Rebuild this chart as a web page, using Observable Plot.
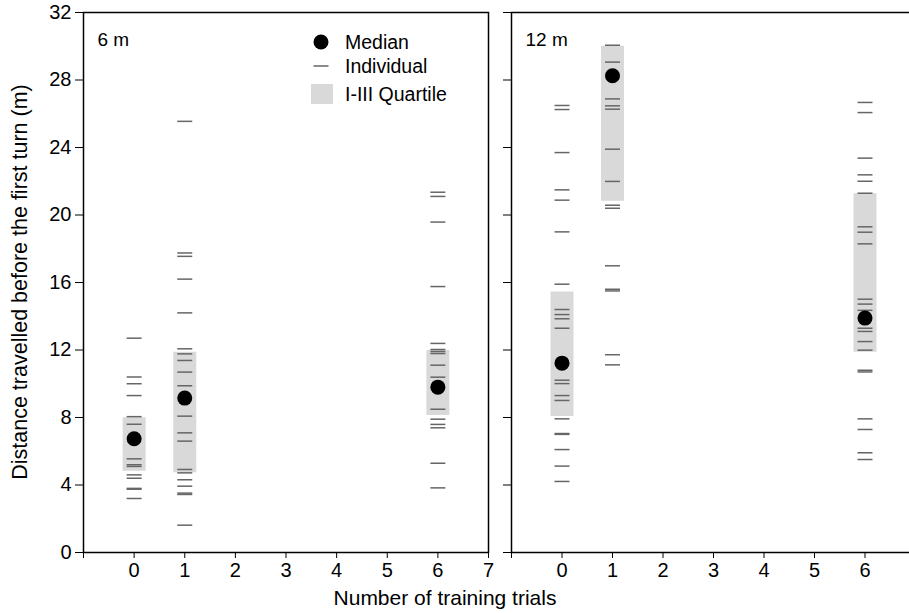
<!DOCTYPE html>
<html><head><meta charset="utf-8">
<script src="https://cdn.jsdelivr.net/npm/d3@7"></script>
<script src="https://cdn.jsdelivr.net/npm/@observablehq/plot@0.6"></script>
<style>
body{margin:0;background:#fff;}
#wrap{position:relative;width:909px;height:613px;overflow:hidden;font-family:"Liberation Sans",Arial,sans-serif;color:#000;}
.abs{position:absolute;}
</style></head><body><div id="wrap"></div>
<script>
// ---- data ----
const trials = [0, 1, 6];
const panels = ["6 m", "12 m"];
const yTicks = [0, 4, 8, 12, 16, 20, 24, 28, 32];
const xTicksLeft = [-1, 0, 1, 2, 3, 4, 5, 6, 7];
const xTicksRight = [-1, 0, 1, 2, 3, 4, 5, 6];

// 6 m individuals
const ind6_t0 = [12.7, 10.4, 10.0, 9.3, 8.05, 7.6, 5.55, 5.2, 5.1, 4.6, 4.4, 3.8, 3.75, 3.2];
const ind6_t1 = [25.55, 17.75, 17.55, 16.2, 14.2, 12.07, 11.77, 11.38, 10.69, 9.88, 8.08, 7.09, 6.6, 4.92, 4.72, 4.31, 3.93, 3.52, 3.44, 1.62];
const ind6_t6 = [21.35, 21.1, 19.58, 15.76, 12.39, 12.03, 11.91, 11.79, 11.1, 10.39, 8.49, 7.9, 7.59, 7.39, 5.29, 3.83];
const median6 = [6.74, 9.15, 9.8];
const q1_6 = [4.82, 4.72, 8.12];
const q3_6 = [7.98, 11.87, 11.97];

// 12 m individuals
const ind12_t0 = [26.49, 26.25, 23.7, 21.49, 20.88, 19.0, 15.9, 14.4, 14.1, 13.85, 13.29, 10.21, 10.01, 9.3, 9.01, 7.92, 7.05, 7.0, 6.1, 5.12, 4.21];
const ind12_t1 = [30.06, 29.06, 26.88, 26.47, 26.27, 23.9, 21.99, 20.58, 20.4, 16.99, 15.6, 15.5, 11.72, 11.12];
const ind12_t6 = [26.67, 26.07, 23.37, 22.38, 22.0, 21.29, 19.3, 18.98, 18.29, 15.01, 14.72, 14.35, 13.29, 13.1, 12.5, 11.99, 10.8, 10.7, 7.92, 7.29, 5.91, 5.51];
const median12 = [11.22, 28.25, 13.89];
const q1_12 = [8.06, 20.82, 11.87];
const q3_12 = [15.43, 30.0, 21.26];

// ---- tables ----
const indByPanel = {"6 m": [ind6_t0, ind6_t1, ind6_t6], "12 m": [ind12_t0, ind12_t1, ind12_t6]};
const sumByPanel = {"6 m": [median6, q1_6, q3_6], "12 m": [median12, q1_12, q3_12]};
function individuals(panel) {
  return indByPanel[panel].flatMap((arr, i) => arr.map(v => ({trial: trials[i], value: v})));
}
function summary(panel) {
  const [m, a, b] = sumByPanel[panel];
  return trials.map((t, i) => ({trial: t, median: m[i], q1: a[i], q3: b[i]}));
}

const dash = {draw(ctx, size) { const r = Math.sqrt(size / Math.PI); ctx.moveTo(-r, 0); ctx.lineTo(r, 0); }};
const FONT = "Liberation Sans, Arial, sans-serif";

function panelPlot(panel, {width, marginLeft, marginRight, showYLabels, xTicks}) {
  return Plot.plot({
    width, height: 590,
    marginLeft, marginRight, marginTop: 12, marginBottom: 38,
    style: {fontSize: "20px", fontFamily: FONT, background: "transparent", overflow: "visible"},
    x: {domain: [-1, 7]},
    y: {domain: [0, 32]},
    marks: [
      Plot.ruleX(summary(panel), {x: "trial", y1: "q1", y2: "q3", stroke: "#d9d9d9", strokeWidth: 23}),
      Plot.dot(individuals(panel), {x: "trial", y: "value", symbol: dash, r: 7.5, fill: "none", stroke: "#666", strokeWidth: 1.5}),
      Plot.dot(summary(panel), {x: "trial", y: "median", r: 7.5, fill: "black", stroke: "none"}),
      Plot.axisY({ticks: yTicks, tickSize: 8, tickPadding: 4, label: null, tickFormat: showYLabels ? (d => d) : (() => "")}),
      Plot.axisX({ticks: xTicks, tickSize: 6, tickPadding: 4, label: null, tickFormat: d => (d < 0 ? "" : d)}),
      Plot.frame({stroke: "black", strokeWidth: 1.5}),
      Plot.text([panel], {text: d => d, frameAnchor: "top-left", dx: 14, dy: 20, textAnchor: "start", fontSize: 19})
    ]
  });
}

const wrap = document.getElementById("wrap");
const left = panelPlot(panels[0], {width: 500, marginLeft: 83, marginRight: 12, showYLabels: true, xTicks: xTicksLeft});
left.classList.add("abs"); left.style.left = "0px"; left.style.top = "0px";
wrap.appendChild(left);
const right = panelPlot(panels[1], {width: 430, marginLeft: 21, marginRight: 5, showYLabels: false, xTicks: xTicksRight});
right.classList.add("abs"); right.style.left = "490px"; right.style.top = "0px";
wrap.appendChild(right);

// legend
const NS = "http://www.w3.org/2000/svg";
const leg = document.createElementNS(NS, "svg");
leg.setAttribute("width", 500); leg.setAttribute("height", 120);
leg.setAttribute("class", "abs"); leg.style.left = "0px"; leg.style.top = "0px";
leg.innerHTML = `
  <circle cx="321" cy="42" r="7.5" fill="black"/>
  <line x1="313.5" x2="328.5" y1="66" y2="66" stroke="#666" stroke-width="1.5"/>
  <rect x="311" y="84" width="22" height="20" fill="#d9d9d9"/>
  <g font-family="${FONT}" font-size="19.5" fill="black">
    <text x="345" y="42" dy="0.35em">Median</text>
    <text x="345" y="66" dy="0.35em">Individual</text>
    <text x="345" y="94" dy="0.35em">I-III Quartile</text>
  </g>`;
wrap.appendChild(leg);

// axis titles
const yt = document.createElement("div");
yt.className = "abs";
yt.textContent = "Distance travelled before the first turn (m)";
Object.assign(yt.style, {left: "-230px", top: "270px", width: "500px", height: "24px", lineHeight: "24px",
  textAlign: "center", fontSize: "21.5px", transform: "rotate(-90deg)", transformOrigin: "250px 12px"});
wrap.appendChild(yt);
const xt = document.createElement("div");
xt.className = "abs";
xt.textContent = "Number of training trials";
Object.assign(xt.style, {left: "245px", top: "586px", width: "400px", height: "24px", lineHeight: "24px",
  textAlign: "center", fontSize: "21px"});
wrap.appendChild(xt);
</script>
</body></html>
